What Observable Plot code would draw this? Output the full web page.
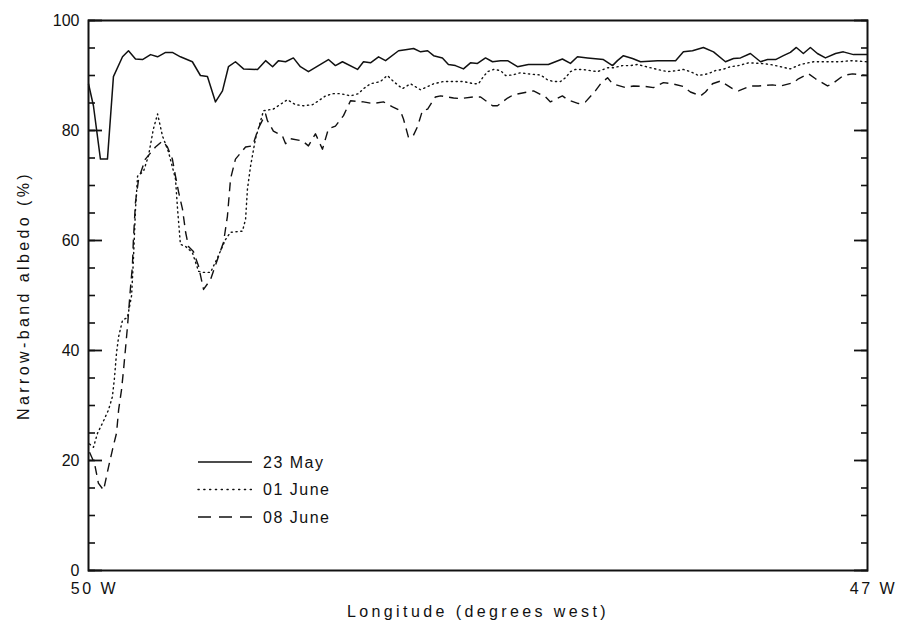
<!DOCTYPE html>
<html>
<head>
<meta charset="utf-8">
<script src="https://cdn.jsdelivr.net/npm/d3@7"></script>
<script src="https://cdn.jsdelivr.net/npm/@observablehq/plot@0.6"></script>
<style>
  html, body { margin: 0; padding: 0; background: #fff; }
  #chart svg { display: block; }
</style>
</head>
<body>
<div id="chart"></div>
<script>
// Narrow-band albedo along the transect, three acquisition dates.
// Longitude in degrees west, albedo in percent.
const lon23May = [50.000, 49.981, 49.954, 49.927, 49.904, 49.869, 49.846, 49.819, 49.792, 49.761,
  49.734, 49.703, 49.677, 49.646, 49.600, 49.569, 49.542, 49.511, 49.484, 49.461,
  49.434, 49.403, 49.349, 49.318, 49.291, 49.268, 49.241, 49.211, 49.184, 49.153,
  49.076, 49.049, 49.022, 48.964, 48.941, 48.914, 48.883, 48.856, 48.806, 48.779,
  48.748, 48.721, 48.694, 48.671, 48.637, 48.614, 48.587, 48.556, 48.529, 48.502,
  48.471, 48.444, 48.413, 48.386, 48.348, 48.306, 48.229, 48.175, 48.144, 48.117,
  48.078, 48.017, 47.982, 47.963, 47.940, 47.905, 47.874, 47.809, 47.739, 47.709,
  47.674, 47.632, 47.593, 47.547, 47.516, 47.489, 47.451, 47.412, 47.385, 47.354,
  47.324, 47.297, 47.274, 47.247, 47.220, 47.193, 47.162, 47.123, 47.093, 47.054,
  47.000];
const alb23May = [88.5, 84.5, 74.8, 74.8, 89.8, 93.4, 94.5, 93.0, 92.9, 93.8,
  93.4, 94.2, 94.2, 93.4, 92.5, 90.0, 89.8, 85.2, 87.2, 91.6,
  92.5, 91.2, 91.1, 92.7, 91.6, 92.7, 92.5, 93.2, 91.6, 90.7,
  92.9, 91.8, 92.5, 91.1, 92.5, 92.3, 93.4, 92.7, 94.5, 94.7,
  94.9, 94.3, 94.5, 93.6, 93.2, 92.0, 91.8, 91.2, 92.3, 92.2,
  93.2, 92.5, 92.7, 92.7, 91.6, 92.0, 92.0, 93.0, 92.2, 93.4,
  93.2, 92.9, 91.8, 92.7, 93.6, 93.1, 92.5, 92.7, 92.7, 94.3,
  94.5, 95.1, 94.3, 92.5, 93.1, 93.2, 94.0, 92.5, 92.9, 92.9,
  93.6, 94.2, 95.1, 94.0, 95.1, 94.0, 93.2, 94.0, 94.3, 93.8,
  93.8];

const lon01Jun = [49.996, 49.981, 49.965, 49.946, 49.923, 49.908, 49.900, 49.892, 49.884, 49.869,
  49.850, 49.834, 49.827, 49.819, 49.811, 49.788, 49.769, 49.750, 49.734, 49.715,
  49.692, 49.665, 49.657, 49.646, 49.626, 49.600, 49.576, 49.557, 49.530, 49.503,
  49.472, 49.453, 49.407, 49.395, 49.388, 49.376, 49.357, 49.326, 49.288, 49.234,
  49.203, 49.172, 49.137, 49.114, 49.087, 49.057, 49.030, 48.991, 48.960, 48.941,
  48.914, 48.876, 48.849, 48.825, 48.791, 48.760, 48.721, 48.671, 48.633, 48.594,
  48.556, 48.517, 48.498, 48.479, 48.463, 48.440, 48.413, 48.394, 48.367, 48.336,
  48.309, 48.259, 48.232, 48.209, 48.182, 48.163, 48.144, 48.125, 48.098, 48.040,
  48.001, 47.978, 47.944, 47.913, 47.886, 47.809, 47.770, 47.732, 47.709, 47.682,
  47.651, 47.616, 47.585, 47.558, 47.528, 47.497, 47.458, 47.412, 47.374, 47.335,
  47.297, 47.258, 47.208, 47.154, 47.104, 47.066, 47.000];
const alb01Jun = [23.0, 22.4, 25.0, 26.8, 29.2, 31.6, 35.0, 39.6, 42.5, 45.5,
  46.0, 50.0, 56.6, 65.7, 71.7, 72.6, 75.4, 80.3, 83.0, 79.0,
  76.1, 71.2, 65.7, 59.3, 58.9, 57.8, 54.4, 54.2, 54.2, 56.9,
  60.2, 61.5, 61.7, 63.9, 69.3, 73.5, 78.5, 83.6, 83.9, 85.6,
  84.7, 84.5, 84.7, 85.4, 86.3, 86.7, 86.7, 86.3, 86.7, 87.6,
  88.5, 88.9, 90.0, 88.9, 87.6, 88.5, 87.4, 88.5, 88.9, 88.9,
  88.9, 88.5, 88.5, 89.8, 90.7, 91.1, 90.9, 90.0, 90.1, 90.5,
  90.3, 90.1, 89.2, 88.9, 88.9, 89.6, 90.7, 91.1, 91.1, 90.7,
  91.4, 91.4, 91.8, 91.8, 92.0, 91.1, 90.7, 90.9, 91.1, 90.7,
  90.0, 90.3, 90.9, 91.1, 91.6, 91.8, 92.3, 92.2, 92.0, 91.6,
  91.2, 92.0, 92.5, 92.5, 92.5, 92.7, 92.5];

const lon08Jun = [49.996, 49.977, 49.962, 49.942, 49.923, 49.908, 49.892, 49.884, 49.873, 49.865,
  49.858, 49.850, 49.838, 49.831, 49.827, 49.819, 49.807, 49.781, 49.742, 49.715,
  49.696, 49.677, 49.665, 49.653, 49.638, 49.626, 49.615, 49.596, 49.576, 49.557,
  49.530, 49.503, 49.480, 49.465, 49.453, 49.434, 49.395, 49.368, 49.345, 49.318,
  49.311, 49.288, 49.253, 49.241, 49.222, 49.176, 49.153, 49.126, 49.099, 49.076,
  49.049, 49.018, 48.991, 48.941, 48.906, 48.864, 48.829, 48.799, 48.787, 48.768,
  48.752, 48.733, 48.714, 48.694, 48.664, 48.644, 48.594, 48.567, 48.517, 48.490,
  48.444, 48.425, 48.386, 48.363, 48.309, 48.286, 48.240, 48.221, 48.175, 48.155,
  48.113, 48.086, 48.048, 48.028, 48.001, 47.982, 47.932, 47.901, 47.855, 47.824,
  47.786, 47.751, 47.709, 47.682, 47.643, 47.624, 47.597, 47.566, 47.520, 47.497,
  47.451, 47.420, 47.366, 47.335, 47.285, 47.266, 47.227, 47.200, 47.154, 47.135,
  47.093, 47.058, 47.000];
const alb08Jun = [21.5, 19.5, 15.9, 14.6, 18.8, 21.9, 25.0, 29.2, 32.8, 36.5,
  40.1, 44.3, 51.6, 55.3, 60.2, 67.0, 71.2, 74.8, 77.0, 78.1,
  77.0, 74.8, 71.7, 68.8, 65.7, 61.5, 58.9, 58.0, 55.3, 51.1,
  52.9, 56.6, 59.7, 64.4, 71.2, 74.8, 77.0, 77.2, 80.5, 83.0,
  81.8, 79.9, 79.0, 77.6, 78.5, 78.1, 77.2, 79.4, 76.6, 80.3,
  80.8, 82.7, 85.4, 85.2, 84.9, 85.2, 84.3, 83.6, 82.1, 78.8,
  78.8, 80.7, 83.6, 83.9, 86.1, 86.3, 85.9, 85.8, 86.1, 86.1,
  84.5, 84.5, 85.9, 86.5, 87.0, 87.2, 86.1, 85.2, 86.3, 85.6,
  84.9, 85.2, 87.2, 88.5, 89.6, 88.5, 87.8, 88.1, 88.0, 87.8,
  88.7, 88.5, 88.0, 87.0, 86.3, 87.0, 88.5, 89.0, 87.6, 87.2,
  88.1, 88.1, 88.3, 88.1, 88.7, 89.4, 90.3, 89.4, 88.1, 88.5,
  90.0, 90.3, 90.0];

const seriesNames = ["23 May", "01 June", "08 June"];
const seriesDash = ["none", "1.2,3.6", "9,6"];
const legendDash = ["none", "1.2,4.6", "13,8"];

const yMajor = [0, 20, 40, 60, 80, 100];
const yMinor = d3.range(0, 101, 5);
const xTicks = [50, 47];

const series = [
  {name: seriesNames[0], lon: lon23May, alb: alb23May},
  {name: seriesNames[1], lon: lon01Jun, alb: alb01Jun},
  {name: seriesNames[2], lon: lon08Jun, alb: alb08Jun}
];
const rows = series.flatMap(s => s.lon.map((lon, i) => ({date: s.name, lon, alb: s.alb[i]})));

const font = "'Liberation Sans', Arial, Helvetica, sans-serif";

const lineMarks = series.map((s, k) =>
  Plot.line(rows.filter(r => r.date === s.name), {
    x: "lon", y: "alb",
    stroke: "#111", strokeWidth: k === 0 ? 1.5 : 1.4,
    strokeDasharray: seriesDash[k],
    strokeLinecap: k === 1 ? "round" : "butt",
    curve: "linear"
  })
);

const plot = Plot.plot({
  width: 898,
  height: 631,
  marginLeft: 88,
  marginRight: 31,
  marginTop: 20,
  marginBottom: 61,
  style: {fontFamily: font, fontSize: "16px", color: "#111", background: "#fff"},
  x: {domain: [50, 47], label: null},
  y: {domain: [0, 100], label: null},
  marks: [
    ...lineMarks,
    // inward ticks on both vertical sides
    Plot.axisY({anchor: "left", ticks: yMinor, tickSize: -7, text: null, strokeWidth: 1.6, label: null}),
    Plot.axisY({anchor: "left", ticks: yMajor, tickSize: -14, text: null, strokeWidth: 1.8, label: null}),
    Plot.axisY({anchor: "right", ticks: yMinor, tickSize: -7, text: null, strokeWidth: 1.6, label: null}),
    Plot.axisY({anchor: "right", ticks: yMajor, tickSize: -14, text: null, strokeWidth: 1.8, label: null}),
    Plot.axisY({
      anchor: "left", ticks: yMajor, tickSize: 0, tickPadding: 9,
      label: "Narrow-band albedo (%)", labelAnchor: "center", labelArrow: "none", labelOffset: 71
    }),
    Plot.axisX({
      anchor: "bottom", ticks: xTicks, tickSize: 0, tickPadding: 12, dx: 6,
      tickFormat: d => `${d} W`, label: null
    }),
    Plot.axisX({
      anchor: "bottom", ticks: [], tickSize: 0, dx: -8,
      label: "Longitude (degrees west)", labelAnchor: "center", labelArrow: "none", labelOffset: 46
    }),
    Plot.frame({stroke: "#111", strokeWidth: 2})
  ]
});

const svg = d3.select(plot);

// wider letter spacing for the axis titles and the longitude labels
svg.selectAll('g[aria-label="y-axis label"] text, g[aria-label="x-axis label"] text')
  .style("letter-spacing", "3.4px");
svg.selectAll('g[aria-label="x-axis tick label"] text')
  .style("letter-spacing", "2.5px");

// legend inside the lower-left part of the frame
const legend = svg.append("g").attr("aria-label", "legend").attr("text-anchor", "start");
const lx = 198, ly = 462, lstep = 27.5, llen = 54;
seriesNames.forEach((name, k) => {
  const y = ly + k * lstep;
  legend.append("line")
    .attr("x1", lx).attr("x2", lx + llen).attr("y1", y).attr("y2", y)
    .attr("stroke", "#111").attr("stroke-width", k === 0 ? 1.5 : 1.4)
    .attr("stroke-dasharray", legendDash[k])
    .attr("stroke-linecap", k === 1 ? "round" : "butt");
  legend.append("text")
    .attr("x", lx + llen + 11).attr("y", y)
    .attr("dy", "0.35em")
    .attr("text-anchor", "start")
    .attr("fill", "#111")
    .style("font-family", font)
    .style("font-size", "16px")
    .style("letter-spacing", "1.5px")
    .text(name);
});

document.getElementById("chart").appendChild(plot);
</script>
</body>
</html>
